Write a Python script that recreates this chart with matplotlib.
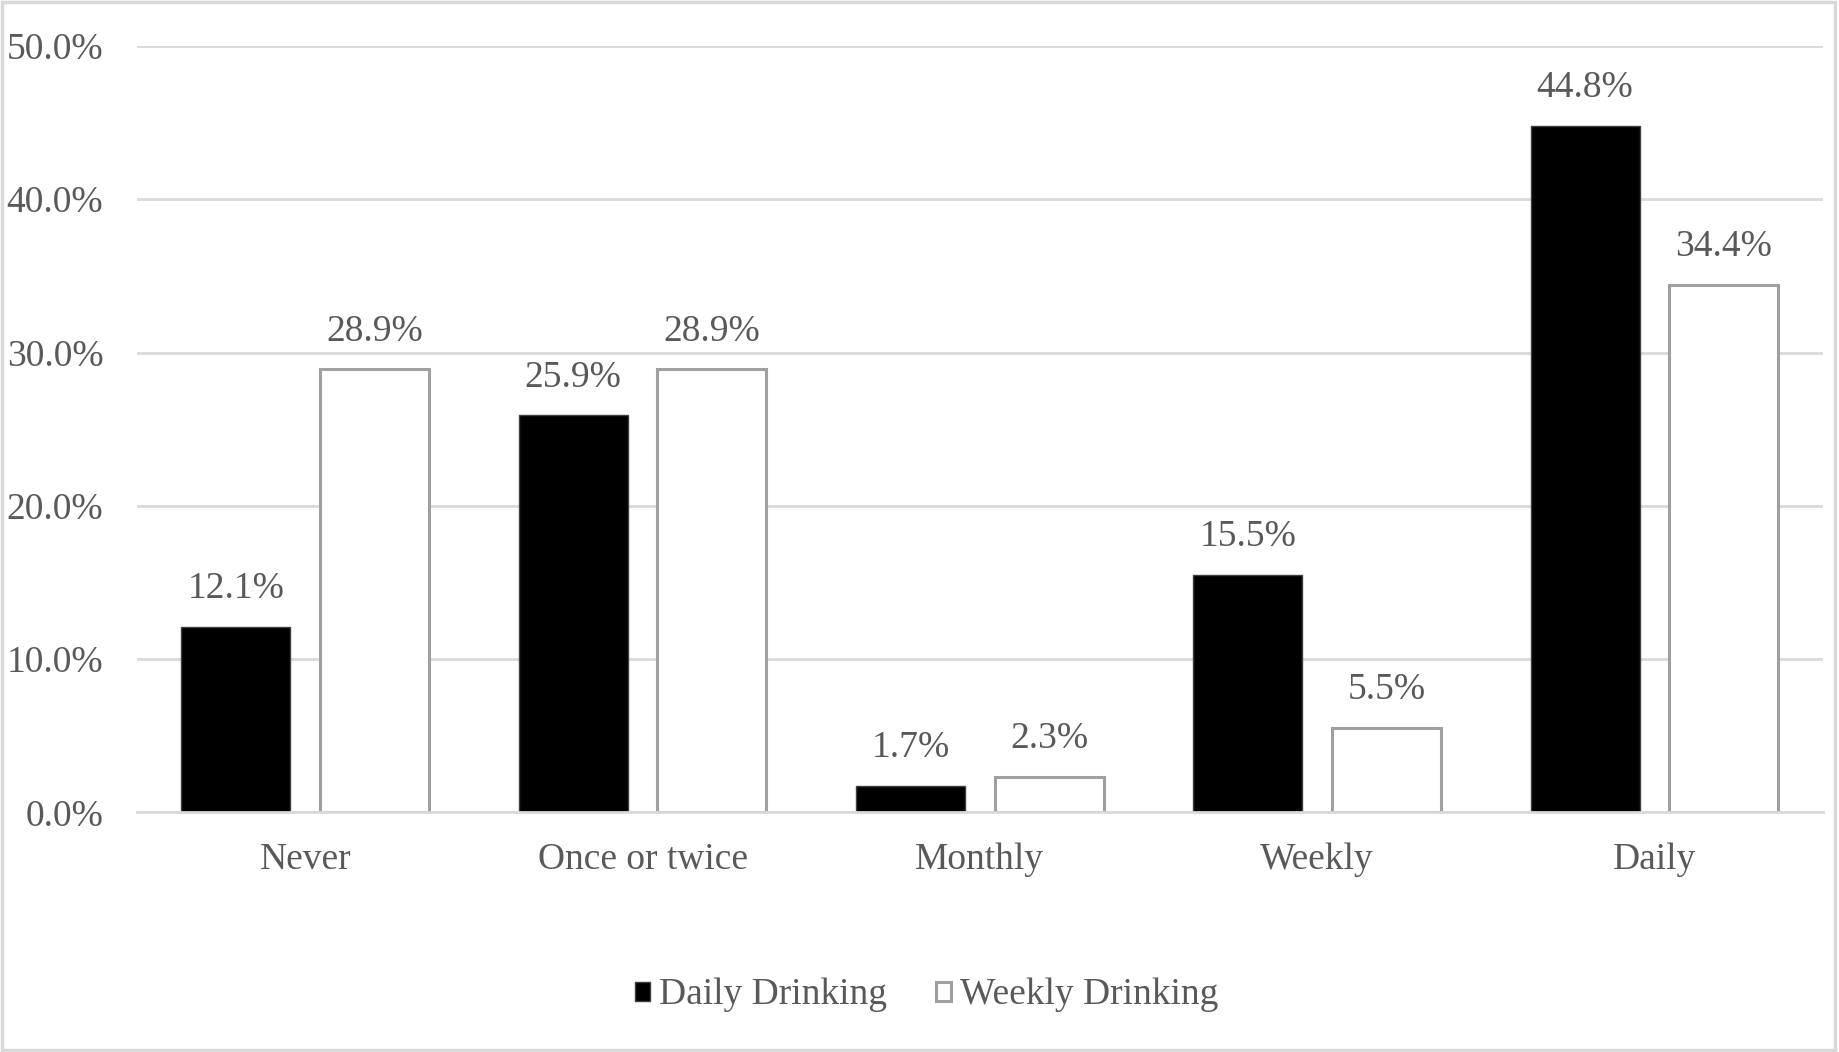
import matplotlib.pyplot as plt
import numpy as np
from matplotlib.patches import Rectangle

# data
categories = ["Never", "Once or twice", "Monthly", "Weekly", "Daily"]
daily_drinking = [12.1, 25.9, 1.7, 15.5, 44.8]
weekly_drinking = [28.9, 28.9, 2.3, 5.5, 34.4]
series_names = ["Daily Drinking", "Weekly Drinking"]

text_col = "#595959"
plt.rcParams["font.family"] = ["Liberation Serif", "DejaVu Serif"]
plt.rcParams["font.size"] = 27

fig = plt.figure(figsize=(18.39, 10.52), dpi=100)
ax = fig.add_axes([0.0743, 0.2278, 0.9170, 0.7285])

x = np.arange(len(categories))
w = 0.323
gap = 0.088
off = (w + gap) / 2

b1 = ax.bar(x - off, daily_drinking, w, color="black", edgecolor="#404040",
            linewidth=1, label=series_names[0], zorder=3)
b2 = ax.bar(x + off, weekly_drinking, w, color="white", edgecolor="#a0a0a0",
            linewidth=2.2, label=series_names[1], zorder=3)

# value labels
for bars, vals in [(b1, daily_drinking), (b2, weekly_drinking)]:
    for r, v in zip(bars, vals):
        ax.annotate("%.1f%%" % v, (r.get_x() + r.get_width() / 2, v),
                    xytext=(0, 15), textcoords="offset points",
                    ha="center", va="bottom", color=text_col, fontsize=27)

ax.set_xlim(-0.5, len(categories) - 0.5)
ax.set_ylim(0, 50)
ax.set_yticks(np.arange(0, 51, 10))
ax.set_yticklabels(["%.1f%%" % t for t in np.arange(0, 51, 10)])
ax.set_xticks(x)
ax.set_xticklabels(categories)
ax.tick_params(axis="both", length=0, colors=text_col, labelsize=27)
ax.tick_params(axis="y", pad=24)
ax.tick_params(axis="x", pad=22)

ax.grid(axis="y", color="#d9d9d9", linewidth=2, zorder=0)
for s in ["top", "right", "left"]:
    ax.spines[s].set_visible(False)
ax.spines["bottom"].set_color("#d9d9d9")
ax.spines["bottom"].set_linewidth(2)
ax.spines["bottom"].set_zorder(4)

leg = fig.legend(loc="center", bbox_to_anchor=(0.504, 0.054), ncol=2,
                 frameon=False, handlelength=0.4, handleheight=0.4,
                 handletextpad=0.25, columnspacing=1.3, fontsize=27)
for t in leg.get_texts():
    t.set_color(text_col)

# light outer border
fig.patches.append(Rectangle((0.001, 0.002), 0.997, 0.996, transform=fig.transFigure,
                             fill=False, edgecolor="#d9d9d9", linewidth=2.5))

fig.savefig("out.png", dpi=100)
